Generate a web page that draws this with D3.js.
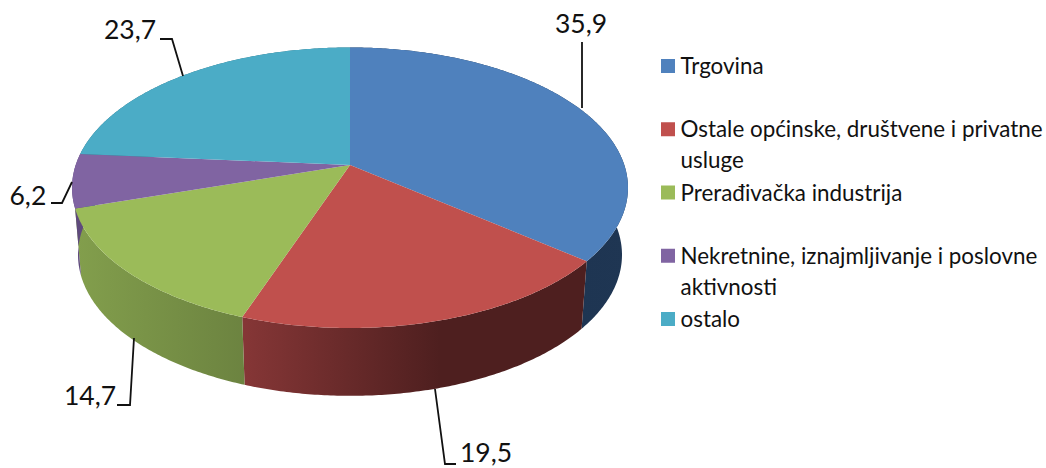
<!DOCTYPE html>
<html>
<head>
<meta charset="utf-8">
<style>
  html, body { margin: 0; padding: 0; background: #fff; }
  text { font-family: Lato, "Open Sans", sans-serif; fill: #111; }
  .value { font-size: 26.5px; }
  .legend { font-size: 22.4px; }
</style>
</head>
<body>
<div id="chart"></div>
<script src="https://cdn.jsdelivr.net/npm/d3@7"></script>
<script>
var categories = ["Trgovina", "Ostale općinske, društvene i privatne|usluge", "Prerađivačka industrija", "Nekretnine, iznajmljivanje i poslovne|aktivnosti", "ostalo"];
var values = [35.9, 19.5, 14.7, 6.2, 23.7];
var valueLabels = ["35,9", "19,5", "14,7", "6,2", "23,7"];
var colors = ["#4f81bd", "#c0504d", "#9bbb59", "#8064a2", "#4bacc6"];

// shading of the rim, left to right
var sideShades = [
  ["#1e3552", "#1f3653"],
  ["#853636", "#4e1f1f"],
  ["#829e4c", "#6c8340"],
  ["#5f4a7d", "#5f4a7d"],
  ["#2f6f80", "#2f6f80"]
];
var sideExtents = [[580, 630], [245, 440], [78, 245], [70, 85], [70, 350]];

// leader lines and where the value sits
var leaders = [
  { pts: [[582, 108], [582, 42]], x: 555, y: 33 },
  { pts: [[435, 389], [445, 464], [456, 464]], x: 460, y: 462 },
  { pts: [[134, 338], [130, 405], [117, 405]], x: 64, y: 405 },
  { pts: [[72, 182], [62, 203], [51, 203]], x: 9.5, y: 205 },
  { pts: [[183, 76], [172, 39], [160, 39]], x: 104, y: 39 }
];

var width = 1046,
  height = 468;

var svg = d3.select("#chart").append("svg")
  .attr("width", width)
  .attr("height", height)
  .style("display", "block");

var defs = svg.append("defs");

// the pie is seen in perspective, so the near side is stretched (k) and the
// centre does not fall on the centre of the ellipse
var k = -0.162;
var topFace = { cx: 350, cy: 165, a: 274.3, b: 136.6 };
var bottomFace = { cx: 350, cy: 232, a: 268.4, b: 137.3 };

function project(face, angle) {
  var cos = Math.sin(angle),
    sin = -Math.cos(angle),
    w = 1 + k * sin;
  return [face.cx + face.a * cos / w, face.cy + face.b * sin / w];
}

function arcPoints(face, start, end) {
  var n = Math.max(2, Math.ceil((end - start) / 0.01));
  return d3.range(n + 1).map(function(i) {
    return project(face, start + (end - start) * i / n);
  });
}

var slices = d3.pie().sort(null)(values);
var line = d3.line();

slices.forEach(function(d, i) {
  var grad = defs.append("linearGradient")
    .attr("id", "side-" + i)
    .attr("gradientUnits", "userSpaceOnUse")
    .attr("x1", sideExtents[i][0]).attr("x2", sideExtents[i][1])
    .attr("y1", 0).attr("y2", 0);
  grad.append("stop").attr("offset", 0).attr("stop-color", sideShades[i][0]);
  grad.append("stop").attr("offset", 1).attr("stop-color", sideShades[i][1]);
});

// rim first, the top faces cover whatever is behind
svg.append("g").selectAll("path")
  .data(slices)
  .join("path")
    .attr("fill", function(d, i) { return "url(#side-" + i + ")"; })
    .attr("d", function(d) {
      var outer = arcPoints(topFace, d.startAngle, d.endAngle);
      var inner = arcPoints(bottomFace, d.startAngle, d.endAngle).reverse();
      return line(outer.concat(inner)) + "Z";
    });

svg.append("g").selectAll("path")
  .data(slices)
  .join("path")
    .attr("fill", function(d, i) { return colors[i]; })
    .attr("d", function(d) {
      var centre = [topFace.cx, topFace.cy];
      return line([centre].concat(arcPoints(topFace, d.startAngle, d.endAngle))) + "Z";
    });

// value labels
svg.append("g").selectAll("path")
  .data(leaders)
  .join("path")
    .attr("fill", "none")
    .attr("stroke", "#111")
    .attr("stroke-width", 1.8)
    .attr("d", function(d) { return line(d.pts); });

svg.append("g").selectAll("text")
  .data(leaders)
  .join("text")
    .attr("class", "value")
    .attr("x", function(d) { return d.x; })
    .attr("y", function(d) { return d.y; })
    .text(function(d, i) { return valueLabels[i]; });

// legend
var legendY = d3.scalePoint()
  .domain(categories)
  .range([74, 327]);

var legend = svg.append("g").selectAll("g")
  .data(categories)
  .join("g")
    .attr("transform", function(d) { return "translate(661," + legendY(d) + ")"; });

legend.append("rect")
  .attr("x", 0)
  .attr("y", -15)
  .attr("width", 14)
  .attr("height", 14)
  .attr("fill", function(d, i) { return colors[i]; });

legend.append("text")
  .attr("class", "legend")
  .selectAll("tspan")
  .data(function(d) { return d.split("|"); })
  .join("tspan")
    .attr("x", 19.5)
    .attr("y", function(d, i) { return i * 31; })
    .text(function(d) { return d; });
</script>
</body>
</html>
